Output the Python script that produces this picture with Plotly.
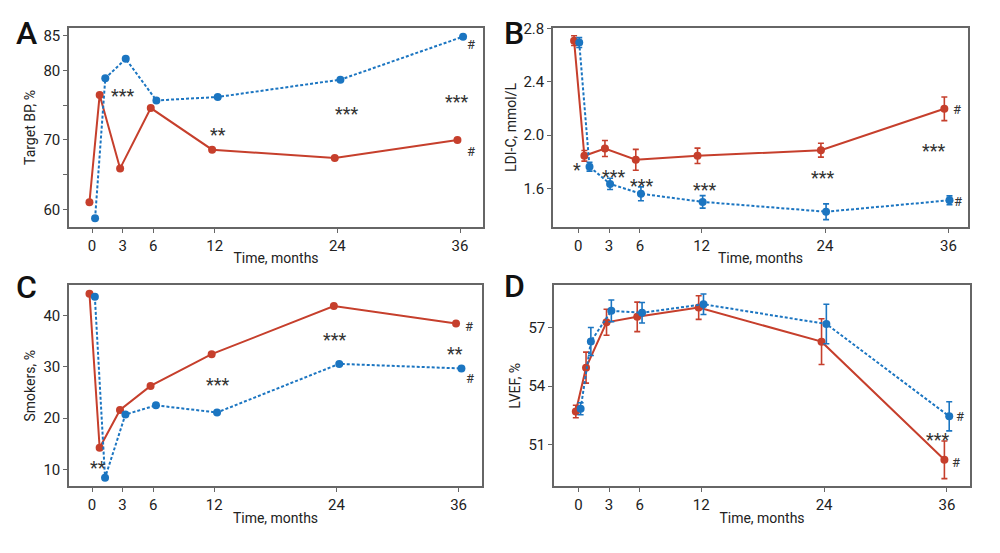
import plotly.graph_objects as go

# time points (months); red/blue points are dodged a bit around each time point
months = [0, 1, 3, 6, 12, 24, 36]

# A - target BP, %
bp_red = [61.0, 76.5, 65.9, 74.6, 68.6, 67.4, 70.0]
bp_blue = [58.7, 78.9, 81.7, 75.7, 76.2, 78.7, 84.9]

# B - LDL-C, mmol/L (mean +/- error)
ldl_red = [2.71, 1.845, 1.90, 1.815, 1.845, 1.887, 2.198]
ldl_red_err = [0.037, 0.04, 0.06, 0.078, 0.058, 0.052, 0.089]
ldl_blue = [2.696, 1.763, 1.634, 1.56, 1.499, 1.425, 1.511]
ldl_blue_err = [0.037, 0.033, 0.042, 0.052, 0.047, 0.059, 0.033]

# C - smokers, %
smk_red = [44.3, 14.2, 21.6, 26.3, 32.5, 41.9, 38.5]
smk_blue = [43.7, 8.35, 20.7, 22.5, 21.1, 30.6, 29.7]

# D - LVEF, % (mean +/- error)
ef_red = [52.69, 54.95, 57.29, 57.57, 58.05, 56.29, 50.2]
ef_red_err = [0.32, 0.8, 0.67, 0.76, 0.61, 1.18, 0.97]
ef_blue = [52.83, 56.3, 57.88, 57.78, 58.22, 57.2, 52.44]
ef_blue_err = [0.31, 0.72, 0.56, 0.53, 0.53, 1.02, 0.75]

# significance marks: (x, y, text)
marks_a = [(3, 77.2, "***"), (12.3, 71.5, "**"), (24.9, 74.5, "***"), (35.7, 76.3, "***"),
           (37.1, 83.8, "#"), (37.1, 68.4, "#")]
marks_b = [(-0.15, 1.778, "*"), (3.44, 1.729, "***"), (6.17, 1.659, "***"), (12.3, 1.63, "***"),
           (23.8, 1.72, "***"), (34.6, 1.92, "***"), (36.8, 2.19, "#"), (36.9, 1.50, "#")]
marks_c = [(0.56, 11.35, "**"), (12.4, 27.6, "***"), (23.9, 36.3, "***"), (35.6, 33.6, "**"),
           (37.0, 38.0, "#"), (37.1, 27.7, "#")]
marks_d = [(35.1, 51.5, "***"), (37.3, 52.44, "#"), (36.9, 50.04, "#")]

RED = "#c63f2c"
BLUE = "#1b75c1"
FONT = "Roboto, Liberation Sans, sans-serif"

# per-panel dodge of the red / blue series
dodges = [(-0.25, 0.3), (-0.4, 0.1), (-0.25, 0.28), (-0.25, 0.22)]

fig = go.Figure()


def add_pair(n, red, blue, red_err=None, blue_err=None):
    xa = "x" if n == 1 else "x%d" % n
    ya = "y" if n == 1 else "y%d" % n
    dr, db = dodges[n - 1]
    for off, ys, err, col, dash in [(dr, red, red_err, RED, "solid"),
                                    (db, blue, blue_err, BLUE, "3px,2px")]:
        fig.add_trace(go.Scatter(
            x=[m + off for m in months], y=ys, mode="lines+markers", xaxis=xa, yaxis=ya,
            line=dict(color=col, width=2, dash=dash),
            marker=dict(color=col, size=8),
            error_y=dict(type="data", array=err, visible=err is not None,
                         color=col, thickness=1.6, width=3),
            showlegend=False))


add_pair(1, bp_red, bp_blue)
add_pair(2, ldl_red, ldl_blue, ldl_red_err, ldl_blue_err)
add_pair(3, smk_red, smk_blue)
add_pair(4, ef_red, ef_blue, ef_red_err, ef_blue_err)

xdom = [[0.061, 0.475], [0.545, 0.960], [0.061, 0.474], [0.546, 0.962]]
ydom = [[0.613, 0.978], [0.613, 0.978], [0.137, 0.506], [0.137, 0.506]]
xrng = [[-2.25, 38.25], [-2.45, 37.9], [-2.26, 38.3], [-2.38, 38.25]]
yrng = [[57.46, 86.15], [1.311, 2.805], [6.67, 45.97], [48.83, 59.2]]
ytitles = ["Target BP, %", "LDI-C, mmol/L", "Smokers, %", "LVEF, %"]
yticks = [
    dict(tickvals=[60, 65, 70, 75, 80, 85], ticktext=["60", "", "70", "", "80", "85"]),
    dict(tickvals=[1.6, 2.0, 2.4, 2.8], ticktext=["1.6", "2.0", "2.4", "2.8"]),
    dict(tickvals=[10, 20, 30, 40], ticktext=["10", "20", "30", "40"]),
    dict(tickvals=[51, 54, 57], ticktext=["51", "54", "57"]),
]

axis_common = dict(showline=True, linecolor="#666", linewidth=1.5, mirror=True,
                   ticks="outside", ticklen=4, tickcolor="#666", showgrid=False,
                   zeroline=False, tickfont=dict(size=15, color="#222", family=FONT))

layout = {}
for i in range(4):
    sfx = "" if i == 0 else str(i + 1)
    layout["xaxis" + sfx] = dict(
        axis_common, domain=xdom[i], range=xrng[i], anchor="y" + sfx,
        tickvals=[0, 3, 6, 12, 24, 36],
        title=dict(text="Time, months", font=dict(size=14, color="#222", family=FONT), standoff=0))
    layout["yaxis" + sfx] = dict(
        axis_common, domain=ydom[i], range=yrng[i], anchor="x" + sfx,
        title=dict(text=ytitles[i], font=dict(size=14, color="#222", family=FONT), standoff=4),
        **yticks[i])

annotations = []
for i, marks in enumerate([marks_a, marks_b, marks_c, marks_d]):
    sfx = "" if i == 0 else str(i + 1)
    for mx, my, txt in marks:
        annotations.append(dict(
            x=mx, y=my, xref="x" + sfx, yref="y" + sfx, text=txt, showarrow=False,
            yshift=-5 if "*" in txt else 0,
            font=dict(size=18 if "*" in txt else 13, color="#333", family=FONT)))

for letter, lx, ly in [("A", 0.018, 0.968), ("B", 0.506, 0.968), ("C", 0.018, 0.502), ("D", 0.506, 0.504)]:
    annotations.append(dict(x=lx, y=ly, xref="paper", yref="paper", text=letter, showarrow=False,
                            xanchor="center", yanchor="middle",
                            font=dict(size=32, color="#111", family=FONT, weight=500)))

fig.update_layout(
    **layout,
    annotations=annotations,
    width=1000, height=553,
    margin=dict(l=0, r=0, t=0, b=0),
    paper_bgcolor="white", plot_bgcolor="white",
    font=dict(family=FONT),
)

fig.write_html("out.html")
